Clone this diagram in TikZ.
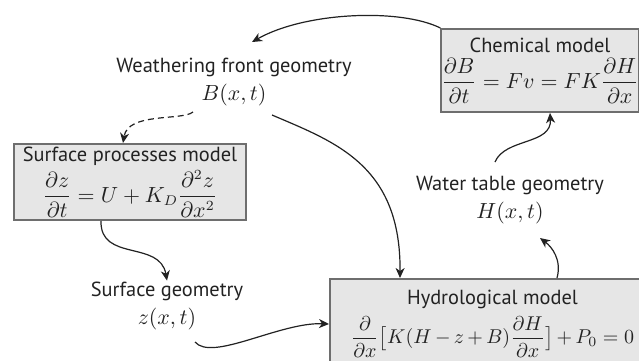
\documentclass[tikz,border=0pt]{standalone}
\usepackage{fontspec}
\setmainfont{PT Sans}
\usepackage{amsmath}
\usetikzlibrary{arrows.meta,calc}
\definecolor{boxfill}{HTML}{E6E6E6}
\definecolor{boxline}{HTML}{6E6E6E}
\definecolor{ink}{HTML}{222222}
\newcommand{\mfs}{\fontsize{10.7}{13}\selectfont}
\begin{document}
\begin{tikzpicture}[x=0.5pt,y=-0.5pt,
  every node/.style={text=ink, font=\fontsize{10.2}{12}\selectfont},
  box/.style={draw=boxline, line width=1pt, fill=boxfill, inner sep=0pt, align=center, anchor=center},
  lbl/.style={align=center, inner sep=0pt},
  conn/.style={-{Stealth[length=5pt,width=4.5pt,inset=1.5pt]}, line width=0.6pt, draw=ink},
  dconn/.style={conn, dash pattern=on 3pt off 2pt}]
\clip (0,0) rectangle (639,360);
% boxes
\node[box, minimum width=98pt, minimum height=41.5pt] (chem) at (540,70.5)
  {Chemical model\\[2pt] {\mfs$\dfrac{\partial B}{\partial t} = Fv = FK\dfrac{\partial H}{\partial x}$}};
\node[box, minimum width=116pt, minimum height=38pt] (surf) at (130,182)
  {Surface processes model\\[1.5pt] {\mfs$\dfrac{\partial z}{\partial t} = U + K_D\dfrac{\partial^2 z}{\partial x^2}$}};
\node[box, minimum width=162.5pt, minimum height=45pt] (hyd) at (492.5,324)
  {Hydrological model\\[2.5pt] {\fontsize{10.4}{13}\selectfont\medmuskip=3mu$\dfrac{\partial}{\partial x}\bigl[K(H-z+B)\dfrac{\partial H}{\partial x}\bigr] + P_0 = 0$}};
% labels
\node[lbl] (wf) at (234,82) {Weathering front geometry\\[2pt] {\mfs$B(x,t)$}};
\node[lbl] (sg) at (167,306) {Surface geometry\\[2pt] {\mfs$z(x,t)$}};
\node[lbl] (wt) at (510,200) {Water table geometry\\[2pt] {\mfs$H(x,t)$}};
% connectors
\draw[conn] (chem.north west) .. controls (400,8) and (305,12) .. ($(wf)+(18,-40)$);
\draw[dconn] ($(wf)+(-41,30)$) .. controls (182,121) and (128,112) .. ($(surf.north)+(-7,0)$);
\draw[conn] ($(wf)+(38,33)$) .. controls (335,142) and (401,165) .. ($(hyd.north west)+(71,0)$);
\draw[conn] ($(surf.south)+(-29,0)$) .. controls (100,262) and (160,240) .. ($(sg.north)+(0,-1)$);
\draw[conn] ($(sg)+(28,36)$) .. controls (212,362) and (280,322) .. (hyd.west);
\draw[conn] ($(hyd.north west)+(228,0)$) .. controls (562,260) and (552,247) .. ($(wt)+(30,38)$);
\draw[conn] ($(wt)+(-15,-38)$) .. controls (505,138) and (552,145) .. ($(chem.south)+(10,0)$);
\end{tikzpicture}
\end{document}
